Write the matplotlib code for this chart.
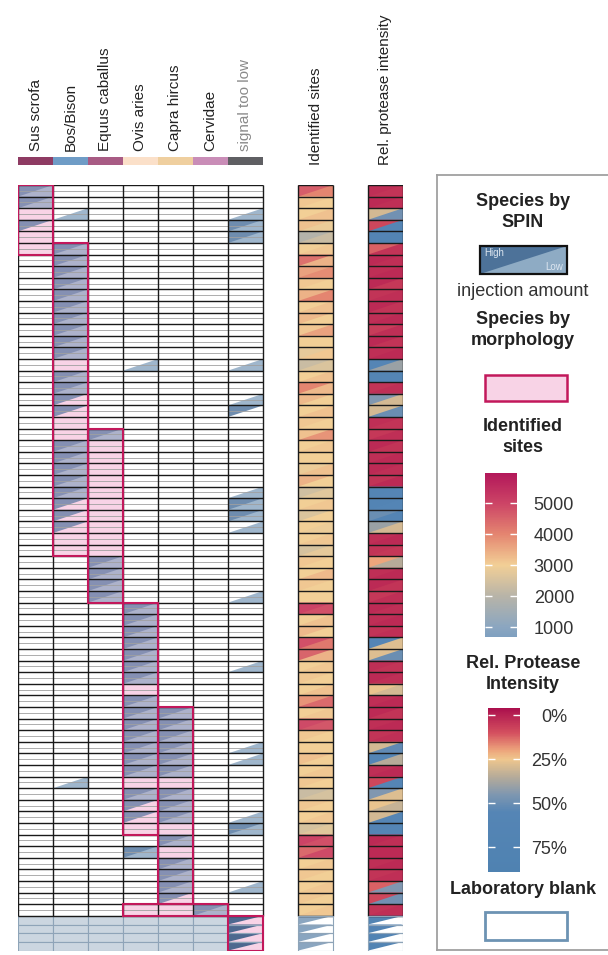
import numpy as np
import matplotlib
matplotlib.use('Agg')
import matplotlib.pyplot as plt
from matplotlib.patches import Polygon, Rectangle
from matplotlib.colors import LinearSegmentedColormap, Normalize, to_rgb
from matplotlib.cm import ScalarMappable

plt.rcParams['font.family'] = ['Liberation Sans', 'DejaVu Sans']

species = ['Sus scrofa', 'Bos/Bison', 'Equus caballus', 'Ovis aries',
           'Capra hircus', 'Cervidae', 'signal too low']
species_colors = ['#8e3b63', '#6f9cc6', '#a85b84', '#fbe0c9', '#efcf9f', '#c98db7', '#5f5f63']

n_rows = 63
n_blank = 4

# morphology boxes: (first col, last col, first row, last row)
morph_blocks = [(0, 0, 0, 5), (1, 1, 5, 31), (2, 2, 21, 35), (3, 3, 36, 55),
                (4, 4, 45, 61), (3, 5, 62, 62)]

# SPIN detections per species column: rows with high / low injection hit
sus_high = [0, 1, 3]
sus_low = [0, 1]
bos_high = [5, 6, 7, 8, 9, 10, 11, 12, 13, 14, 16, 17, 18, 19, 22, 23, 24, 25, 26, 27, 28, 29]
bos_low = [2, 5, 6, 7, 8, 9, 10, 11, 12, 13, 14, 16, 17, 22, 23, 24, 25, 26, 51]
equus_high = [21, 32, 33, 34, 35]
equus_low = [21, 32, 33, 34, 35]
ovis_high = [36, 37, 38, 39, 40, 41, 42, 44, 45, 46, 47, 48, 49, 50, 52, 53, 54, 57]
ovis_low = [15, 36, 37, 38, 39, 40, 41, 42, 44, 45, 46, 47, 48, 49, 50, 52, 57]
capra_high = [45, 46, 47, 48, 49, 50, 52, 53, 54, 56, 58, 59, 60, 61]
capra_low = [45, 46, 47, 48, 49, 50, 52, 53, 54, 56, 58, 59, 60]
cervidae_high = [62]
cervidae_low = [62]
signal_high = [3, 4, 19, 27, 28, 55]
signal_low = [2, 3, 4, 15, 18, 26, 27, 28, 29, 35, 41, 48, 49, 54, 55, 60]

sites_high = [4600, 3100, 3000, 3200, 1900, 3000, 4300, 3600, 3100, 3400, 3000, 3300, 3100,
              3000, 2800, 2300, 3000, 4000, 3300, 3000, 3100, 3200, 3000, 3000, 2900, 3400,
              2400, 3000, 2600, 3000, 3000, 2500, 3100, 3000, 3100, 3000, 5000, 3000, 3300,
              4800, 4500, 3000, 3100, 3000, 3800, 3000, 4900, 3100, 3000, 3200, 3000, 3100,
              2300, 3100, 3000, 2500, 5000, 4400, 3000, 3100, 3000, 3100, 3000]
sites_low = [4000, 3000, 3200, 2900, 2300, 3100, 3400, 3900, 3000, 4000, 3200, 3000, 3600,
             3000, 3100, 2600, 3200, 3300, 3000, 3200, 3000, 3800, 3100, 3000, 3200, 3000,
             2700, 3100, 3000, 2900, 3100, 2800, 3000, 3300, 3000, 3000, 4800, 3200, 3000,
             4200, 3400, 3100, 3000, 3200, 4400, 3100, 4700, 3000, 3000, 3000, 3100, 3000,
             2500, 3000, 3100, 2700, 4800, 4900, 3100, 3000, 3100, 3000, 3100]
prot_high = [3, 2, 30, 8, 62, 12, 2, 3, 2, 4, 2, 3, 6, 2, 3, 55, 60, 4, 45, 30, 3, 5, 2, 3,
             2, 4, 60, 65, 50, 40, 3, 4, 20, 3, 2, 5, 2, 3, 4, 55, 28, 3, 2, 26, 3, 2, 3, 4,
             30, 58, 3, 8, 45, 26, 30, 62, 2, 2, 3, 4, 12, 8, 4]
prot_low = [4, 3, 48, 55, 68, 4, 3, 2, 5, 3, 4, 2, 3, 4, 2, 40, 58, 3, 30, 50, 4, 3, 4, 2,
            3, 2, 55, 58, 62, 30, 2, 5, 35, 2, 4, 3, 3, 2, 3, 28, 50, 4, 3, 30, 2, 4, 2, 3,
            52, 35, 2, 55, 28, 32, 55, 58, 3, 2, 2, 3, 45, 48, 3]
blank_sites = [1000, 900, 950, 1000]
blank_prot = [70, 72, 75, 70]

sites_cmap = LinearSegmentedColormap.from_list('sites', [
    (0.0, '#7fa0c0'), ((1000 - 680) / 5290, '#8ba6c0'), ((2000 - 680) / 5290, '#b8b4a8'),
    ((3000 - 680) / 5290, '#f2cf96'), ((4000 - 680) / 5290, '#e48570'),
    ((5000 - 680) / 5290, '#cc4466'), (1.0, '#b3185a')])
sites_norm = Normalize(680, 5970)
prot_cmap = LinearSegmentedColormap.from_list('prot', [
    (0.0, '#ab0f4d'), (14 / 93, '#d4505f'), (24 / 93, '#eda57c'), (29 / 93, '#efc68d'),
    (39 / 93, '#b6ab99'), (49 / 93, '#7f97b0'), (59 / 93, '#5585b5'), (1.0, '#4f82b1')])
prot_norm = Normalize(-4, 89)

pink = '#f8d3e6'
crimson = '#c2185b'
hi_blue = '#3f6794'
lo_blue = '#7f9dbb'


def blend(top, base, a=0.75):
    return tuple(a * np.array(to_rgb(top)) + (1 - a) * np.array(to_rgb(base)))


def tri(x, y, h, upper):
    if upper:
        return [(x, y), (x + 1, y), (x, y + h)]
    return [(x + 1, y), (x + 1, y + h), (x, y + h)]


def cell(ax, x, y, h, base, hi=None, lo=None, z=2):
    # lower-right colour as full rectangle, upper-left triangle on top (no seams)
    ax.add_patch(Rectangle((x, y), 1, h, facecolor=lo if lo is not None else base,
                           edgecolor='none', zorder=z))
    if lo is not None and hi is None:
        ax.add_patch(Polygon(tri(x, y, h, True), closed=True, facecolor=base,
                             edgecolor='none', zorder=z))
    if hi is not None:
        ax.add_patch(Polygon(tri(x, y, h, True), closed=True, facecolor=hi,
                             edgecolor='none', zorder=z))


fig = plt.figure(figsize=(6.08, 9.55), dpi=100)
ax = fig.add_axes([18 / 608, 4.4 / 955, 385 / 608, 765.6 / 955])
ax.set_xlim(0, 11)
ax.set_ylim(n_rows + 0.75 * n_blank, 0)
ax.axis('off')

high_rows = [sus_high, bos_high, equus_high, ovis_high, capra_high, cervidae_high, signal_high]
low_rows = [sus_low, bos_low, equus_low, ovis_low, capra_low, cervidae_low, signal_low]

morph = np.zeros((n_rows, 7), bool)
for c0, c1, r0, r1 in morph_blocks:
    morph[r0:r1 + 1, c0:c1 + 1] = True

# main sample rows
for r in range(n_rows):
    for c in range(7):
        base = pink if morph[r, c] else 'white'
        a = 0.62 if morph[r, c] else 0.75
        hi = blend(hi_blue, base, a) if r in high_rows[c] else None
        lo = blend(lo_blue, base, a) if r in low_rows[c] else None
        cell(ax, c, r, 1, base, hi, lo)
    ax.plot([0, 7], [r + 0.5, r + 0.5], color='#a0a0a0', lw=0.6, zorder=3)
    cell(ax, 8, r, 1, 'white', sites_cmap(sites_norm(sites_high[r])),
         sites_cmap(sites_norm(sites_low[r])))
    cell(ax, 10, r, 1, 'white', prot_cmap(prot_norm(prot_high[r])),
         prot_cmap(prot_norm(prot_low[r])))

for x0, x1 in [(0, 7), (8, 9), (10, 11)]:
    ax.hlines(np.arange(n_rows + 1), x0, x1, color='#1a1a1a', lw=1.0, zorder=4)
    ax.vlines(np.arange(x0, x1 + 1), 0, n_rows, color='#1a1a1a', lw=1.0, zorder=4)

for c0, c1, r0, r1 in morph_blocks:
    ax.add_patch(Rectangle((c0, r0), c1 - c0 + 1, r1 - r0 + 1, fill=False,
                           edgecolor=crimson, lw=1.5, zorder=5))

# laboratory blanks
bh = 0.75
for k in range(n_blank):
    y = n_rows + k * bh
    for c in range(6):
        ax.add_patch(Rectangle((c, y), 1, bh, facecolor='#cbd6e0', edgecolor='#8ea4b8',
                               lw=0.8, zorder=2))
    cell(ax, 6, y, bh, pink, hi=blend('#2f5580', pink, 0.85))
    cell(ax, 8, y, bh, 'white', hi=sites_cmap(sites_norm(blank_sites[k])))
    cell(ax, 10, y, bh, 'white', hi=prot_cmap(prot_norm(blank_prot[k])))
    for x0 in [6, 8, 10]:
        ax.add_patch(Rectangle((x0, y), 1, bh, fill=False, edgecolor='#8ea4b8',
                               lw=0.8, zorder=4))
ax.add_patch(Rectangle((6, n_rows), 1, n_blank * bh, fill=False, edgecolor=crimson,
                       lw=1.5, zorder=5))

# header: species colour strip and labels
for c, (name, col) in enumerate(zip(species, species_colors)):
    ax.add_patch(Rectangle((c, -2.42), 1, 0.7, facecolor=col, edgecolor='none',
                           clip_on=False))
    ax.text(c + 0.5, -2.95, name, rotation=90, ha='center', va='bottom', fontsize=11,
            color='#8a8a8a' if c == 6 else '#222222', clip_on=False)
ax.text(8.5, -1.7, 'Identified sites', rotation=90, ha='center', va='bottom',
        fontsize=11, color='#222222')
ax.text(10.5, -1.7, 'Rel. protease intensity', rotation=90, ha='center', va='bottom',
        fontsize=11, color='#222222')

# legend panel
lax = fig.add_axes([437 / 608, 5 / 955, 200 / 608, 775 / 955])
lax.set_xlim(437, 637)
lax.set_ylim(950, 175)
lax.set_xticks([])
lax.set_yticks([])
for s in lax.spines.values():
    s.set_color('#a0a0a0')
    s.set_linewidth(1.3)

xc = 523
bold = dict(ha='center', va='center', fontsize=13, fontweight='bold', color='#222222',
            linespacing=1.25)
lax.text(xc, 212, 'Species by\nSPIN', **bold)
lax.add_patch(Rectangle((480, 246), 87, 28, facecolor='#8eabc4', edgecolor='none'))
lax.add_patch(Polygon([(480, 246), (567, 246), (480, 274)], closed=True, facecolor='#4d7299',
                      edgecolor='none'))
lax.add_patch(Rectangle((480, 246), 87, 28, fill=False, edgecolor='#111111', lw=1.6))
lax.text(484, 253, 'High', color='#dde6f0', fontsize=7, va='center')
lax.text(563, 267, 'Low', color='#dde6f0', fontsize=7, va='center', ha='right')
lax.text(xc, 291, 'injection amount', ha='center', va='center', fontsize=13, color='#333333')
lax.text(xc, 330, 'Species by\nmorphology', **bold)
lax.add_patch(Rectangle((485, 375), 82, 26, facecolor=pink, edgecolor=crimson, lw=1.8))
lax.text(xc, 437, 'Identified\nsites', **bold)
lax.text(xc, 674, 'Rel. Protease\nIntensity', **bold)
lax.text(xc, 889, 'Laboratory blank', **bold)
lax.add_patch(Rectangle((485, 912), 82, 28, facecolor='white', edgecolor='#6d93b3', lw=2.0))

cax1 = fig.add_axes([485 / 608, (955 - 637) / 955, 32 / 608, 164 / 955])
cb1 = fig.colorbar(ScalarMappable(sites_norm, sites_cmap), cax=cax1,
                   ticks=[1000, 2000, 3000, 4000, 5000])
cb1.outline.set_visible(False)
cax1.tick_params(axis='y', direction='in', length=5, color='white', width=1,
                 left=True, right=True, labelsize=13, pad=12, labelcolor='#333333')

cax2 = fig.add_axes([488 / 608, (955 - 872) / 955, 32 / 608, 164 / 955])
cb2 = fig.colorbar(ScalarMappable(prot_norm, prot_cmap), cax=cax2, ticks=[0, 25, 50, 75])
cb2.outline.set_visible(False)
cax2.invert_yaxis()
cb2.set_ticklabels(['0%', '25%', '50%', '75%'])
cax2.tick_params(axis='y', direction='in', length=5, color='white', width=1,
                 left=True, right=True, labelsize=13, pad=34, labelcolor='#333333')
for lab in cax2.get_yticklabels():
    lab.set_horizontalalignment('right')

fig.savefig('out.png', dpi=100)
